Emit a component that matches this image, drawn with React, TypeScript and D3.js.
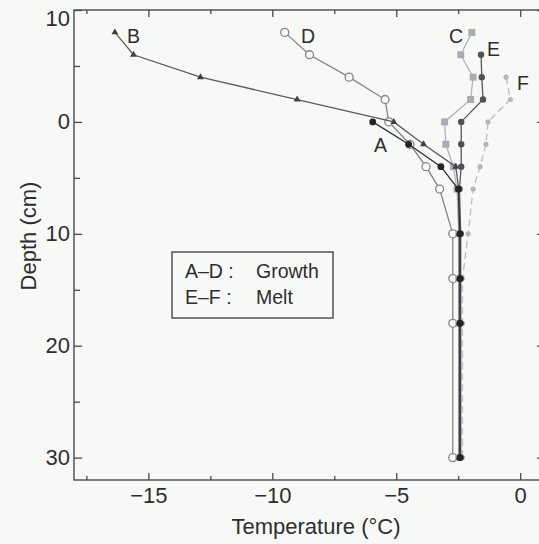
import React, { useEffect, useRef } from "react";
import * as d3 from "d3";

// depth (cm) and temperature (°C) per profile
const depthA = [0, 2, 4, 6, 10, 14, 18, 30];
const tempA = [-5.95, -4.5, -3.2, -2.5, -2.43, -2.43, -2.43, -2.43];

const depthB = [-8, -6, -4, -2, 0, 2, 4, 6, 10, 14, 18, 30];
const tempB = [-16.35, -15.6, -12.9, -9.0, -5.1, -3.9, -2.6, -2.48, -2.46, -2.46, -2.46, -2.46];

const depthC = [-8, -6, -4, -2, 0, 2, 4, 6, 10, 14, 18, 30];
const tempC = [-1.95, -2.4, -1.9, -2.0, -3.05, -3.0, -2.7, -2.55, -2.48, -2.48, -2.48, -2.48];

const depthD = [-8, -6, -4, -2, 0, 2, 4, 6, 10, 14, 18, 30];
const tempD = [-9.5, -8.5, -6.9, -5.45, -5.3, -4.45, -3.8, -3.25, -2.72, -2.72, -2.72, -2.72];

const depthE = [-6, -4, -2, 0, 2, 4, 6, 10, 14, 18, 30];
const tempE = [-1.58, -1.55, -1.5, -2.38, -2.38, -2.38, -2.45, -2.4, -2.4, -2.4, -2.4];

const depthF = [-4, -2, 0, 2, 4, 6, 10, 14, 18, 30];
const tempF = [-0.57, -0.4, -1.3, -1.38, -1.62, -1.9, -2.1, -2.33, -2.33, -2.33];

const xMajor = [-15, -10, -5, 0];
const xMinor = [-17.5, -12.5, -7.5, -2.5];
const yMajor = [-10, 0, 10, 20, 30];
const yMinor = [-5, 5, 15, 25];

const legendLines = [["A–D :", "Growth"], ["E–F :", "Melt"]];

type Pt = [number, number];

const zip = (t: number[], d: number[]): Pt[] => t.map((v, i) => [v, d[i]]);

const series = [
  { key: "D", pts: zip(tempD, depthD), stroke: "#858585", marker: "open", fill: "none", size: 4, label: [-8.84, -7.05] },
  { key: "C", pts: zip(tempC, depthC), stroke: "#b3b3bb", marker: "square", fill: "#ababb3", size: 7, label: [-2.87, -7.05] },
  { key: "F", pts: zip(tempF, depthF), stroke: "#bdbdc5", marker: "dot", fill: "#b5b5bd", size: 2.6, dash: "7,4", label: [-0.13, -2.85] },
  { key: "B", pts: zip(tempB, depthB), stroke: "#5a5a62", marker: "tri", fill: "#3f3f45", size: 3.2, label: [-15.86, -7.05] },
  { key: "E", pts: zip(tempE, depthE), stroke: "#56565c", marker: "dot", fill: "#505056", size: 3.2, label: [-1.34, -5.9] },
  { key: "A", pts: zip(tempA, depthA), stroke: "#303034", marker: "dot", fill: "#232326", size: 3.4, label: [-5.9, 2.68] },
];

const W = 539;
const H = 544;
const font = "Liberation Sans, Arial, Helvetica, sans-serif";

export default function App() {
  const ref = useRef<SVGSVGElement>(null);

  const x = d3.scaleLinear().domain([-18, 1]).range([74, 545]);
  const y = d3.scaleLinear().domain([-10, 32]).range([10, 480]);

  useEffect(() => {
    const svg = d3.select(ref.current);
    svg.selectAll(".axis").remove();

    const style = (g: any) => {
      g.select(".domain").remove();
      g.selectAll("line").attr("stroke", "#4a4a4a").attr("stroke-width", 1.3);
      g.selectAll("text").attr("fill", "#2e2e2e").attr("font-size", 22).attr("font-family", font);
      g.attr("font-size", null).attr("font-family", null);
    };

    const add = (axis: any, tx: number, ty: number) =>
      svg.append("g").attr("class", "axis").attr("transform", `translate(${tx},${ty})`).call(axis).call(style);

    add(d3.axisBottom(x).tickValues(xMajor).tickSize(-7).tickPadding(7), 0, 480);
    add(d3.axisBottom(x).tickValues(xMinor).tickSize(-4).tickFormat(() => ""), 0, 480);
    add(d3.axisTop(x).tickValues(xMajor).tickSize(-7).tickFormat(() => ""), 0, 10);
    add(d3.axisTop(x).tickValues(xMinor).tickSize(-4).tickFormat(() => ""), 0, 10);
    const left = add(
      d3.axisLeft(y).tickValues(yMajor).tickSize(-8).tickPadding(4).tickFormat((d: any) => String(Math.abs(d))),
      74,
      0
    );
    // the top label sits just below the frame edge in the original
    left.selectAll("text").filter((d: any) => d === -10).attr("dy", "0.7em");
    add(d3.axisLeft(y).tickValues(yMinor).tickSize(-6).tickFormat(() => ""), 74, 0);
    add(d3.axisRight(y).tickValues(yMajor).tickSize(-8).tickFormat(() => ""), 545, 0);
    add(d3.axisRight(y).tickValues(yMinor).tickSize(-6).tickFormat(() => ""), 545, 0);
  }, []);

  const line = d3.line<Pt>().x((d) => x(d[0])).y((d) => y(d[1]));
  const tri = d3.symbol().type(d3.symbolTriangle);

  return (
    <svg ref={ref} width={W} height={H} style={{ position: "absolute", left: 0, top: 0 }}>
      <rect width={W} height={H} fill="#f7f9f6" />
      <rect x={74} y={10} width={471} height={470} fill="none" stroke="#4a4a4a" strokeWidth={1.4} />

      {series.map((s) => (
        <g key={s.key}>
          <path d={line(s.pts) || ""} fill="none" stroke={s.stroke} strokeWidth={1.3} strokeDasharray={s.dash} />
          {s.pts.map((p, i) => {
            const cx = x(p[0]);
            const cy = y(p[1]);
            if (s.marker === "square")
              return <rect key={i} x={cx - s.size / 2} y={cy - s.size / 2} width={s.size} height={s.size} fill={s.fill} />;
            if (s.marker === "tri")
              return <path key={i} d={tri.size(s.size * s.size * 2)() || ""} transform={`translate(${cx},${cy})`} fill={s.fill} />;
            if (s.marker === "open")
              return <circle key={i} cx={cx} cy={cy} r={s.size} fill="#f7f9f6" stroke={s.stroke} strokeWidth={1.3} />;
            return <circle key={i} cx={cx} cy={cy} r={s.size} fill={s.fill} />;
          })}
          <text x={x(s.label[0])} y={y(s.label[1])} fontSize={19.5} fontFamily={font} fill="#2e2e2e">
            {s.key}
          </text>
        </g>
      ))}

      <rect x={172} y={252} width={161} height={66} fill="#f7f9f6" stroke="#3a3a3a" strokeWidth={1.3} />
      {legendLines.map((l, i) => (
        <g key={i} fontSize={19.5} fontFamily={font} fill="#2e2e2e">
          <text x={185} y={278 + i * 26}>{l[0]}</text>
          <text x={256} y={278 + i * 26}>{l[1]}</text>
        </g>
      ))}

      <text x={316} y={534} textAnchor="middle" fontSize={22} fontFamily={font} fill="#2e2e2e">
        Temperature (°C)
      </text>
      <text transform="translate(36,236) rotate(-90)" textAnchor="middle" fontSize={22} fontFamily={font} fill="#2e2e2e">
        Depth (cm)
      </text>
    </svg>
  );
}
